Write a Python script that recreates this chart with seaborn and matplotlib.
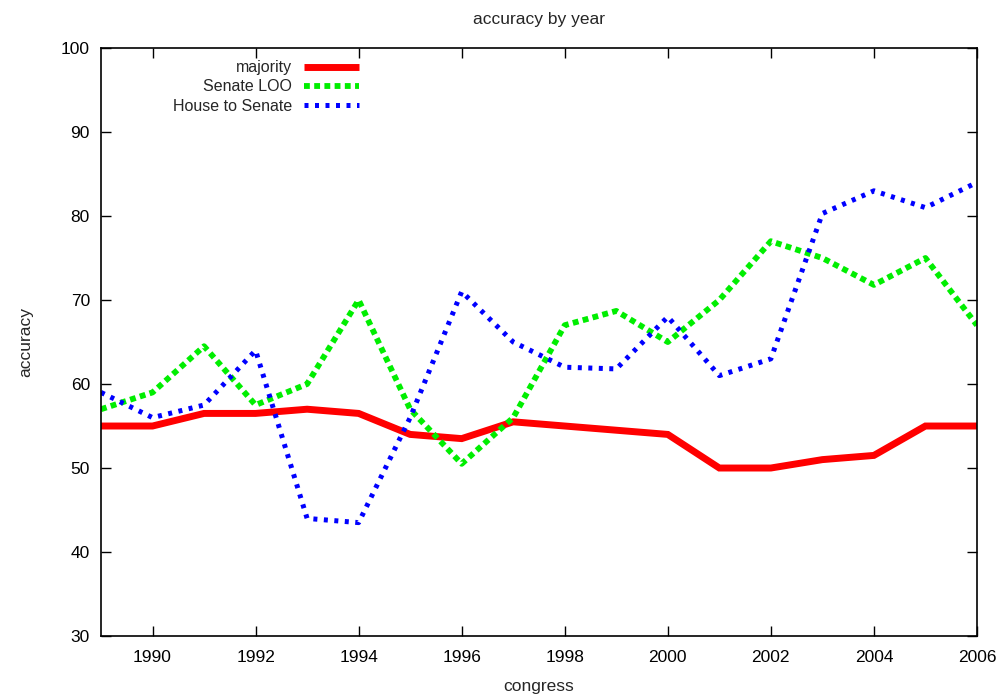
import matplotlib
matplotlib.use("Agg")
import matplotlib.pyplot as plt
import seaborn as sns
import pandas as pd

years = list(range(1989, 2007))
majority = [55, 55, 56.5, 56.5, 57, 56.5, 54, 53.5, 55.5, 55, 54.5, 54, 50, 50, 51, 51.5, 55, 55]
senate_loo = [57, 59, 64.5, 57.5, 60, 70, 57, 50.5, 56, 67, 68.7, 65, 70, 77, 75, 71.8, 75, 67]
house_to_senate = [59, 56, 57.5, 64, 44, 43.5, 56, 71, 65, 62, 61.8, 68, 61, 63, 80.3, 83, 81, 84]
series_names = ["majority", "Senate LOO", "House to Senate"]
x_ticks = list(range(1990, 2007, 2))
y_ticks = list(range(30, 101, 10))

df = pd.DataFrame({
    "congress": years * 3,
    "accuracy": majority + senate_loo + house_to_senate,
    "series": [series_names[0]] * len(years) + [series_names[1]] * len(years) + [series_names[2]] * len(years),
})

sns.set_style("ticks")
plt.rcParams["font.family"] = ["Liberation Sans", "DejaVu Sans"]

fig = plt.figure(figsize=(10.05, 6.98), dpi=100)
ax = fig.add_axes([0.1005, 0.0888, 0.8716, 0.8424])

palette = {"majority": "#ff0000", "Senate LOO": "#00ee00", "House to Senate": "#0000ff"}
sns.lineplot(data=df, x="congress", y="accuracy", hue="series", hue_order=series_names,
             palette=palette, ax=ax, legend=False)

lines = ax.get_lines()
lines[0].set_linewidth(5)
lines[0].set_solid_joinstyle("miter")
lines[0].set_solid_capstyle("butt")
lines[1].set_linewidth(4.2)
lines[1].set_dashes([1.0, 0.75])
lines[2].set_linewidth(3.6)
lines[2].set_dashes([0.8, 1.3])
for ln, name in zip(lines, series_names):
    ln.set_label(name)

ax.set_xlim(1989, 2006)
ax.set_ylim(30, 100)
ax.set_xticks(x_ticks)
ax.set_yticks(y_ticks)
ax.tick_params(direction="in", top=True, right=True, length=7, width=1, labelsize=12.5, pad=8, colors="black")
ax.tick_params(axis="x", pad=10)
for s in ax.spines.values():
    s.set_linewidth(1.2)
    s.set_color("black")

ax.set_xlabel("congress", fontsize=12.5, labelpad=10)
ax.set_ylabel("accuracy", fontsize=12.5, labelpad=20)
ax.set_title("accuracy by year", fontsize=12.5, pad=17)

leg = ax.legend(handles=lines, labels=series_names, loc="upper left", bbox_to_anchor=(0.075, 0.99),
                frameon=False, markerfirst=False, fontsize=11.5, handlelength=3.45,
                handletextpad=0.75, labelspacing=0.26, borderaxespad=0.0)
for t in leg.get_texts():
    t.set_ha("right")
leg._legend_box.align = "right"

fig.savefig("out.png", dpi=100)
